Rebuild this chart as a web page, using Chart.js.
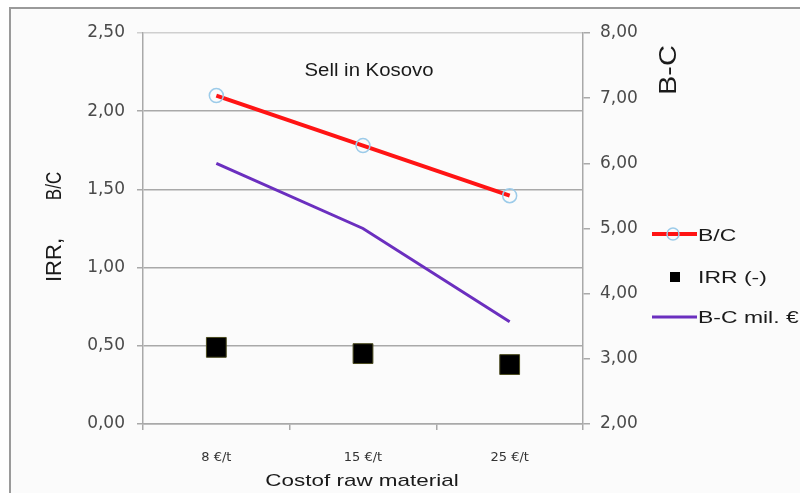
<!DOCTYPE html>
<html>
<head>
<meta charset="utf-8">
<script src="https://cdn.jsdelivr.net/npm/chart.js@4/dist/chart.umd.min.js"></script>
<style>
  html, body { margin: 0; padding: 0; background: #ffffff; }
  #wrap { width: 800px; height: 493px; position: relative; }
</style>
</head>
<body>
<div id="wrap"><canvas id="c" width="800" height="493"></canvas></div>
<script>
// Cost of raw material scenarios
const categories = ['8 €/t', '15 €/t', '25 €/t'];
// Benefit / cost ratio (left axis)
const benefitCostRatio = [2.10, 1.78, 1.46];
// Internal rate of return (left axis)
const irrValues = [0.49, 0.45, 0.38];
// Benefit minus cost, million € (right axis)
const benefitMinusCost = [6.00, 5.00, 3.57];

// Axis ranges
const leftAxis = { min: 0, max: 2.5, step: 0.5 };
const rightAxis = { min: 2, max: 8, step: 1 };

const TEXT_FONT = '"Liberation Sans", Arial, sans-serif';
const TICK_FONT = '"DejaVu Sans", Verdana, sans-serif';
const GRID = '#a9a9a9';

function commaFixed(v) {
  return Number(v).toFixed(2).replace('.', ',');
}

// Draws text with an optional rotation and independent x/y stretch
function drawText(ctx, text, x, y, o) {
  ctx.save();
  ctx.translate(x, y);
  if (o.rot) ctx.rotate(o.rot);
  ctx.scale(o.sx || 1, o.sy || 1);
  ctx.font = o.font;
  ctx.fillStyle = o.color || '#222';
  ctx.textAlign = o.align || 'left';
  ctx.textBaseline = 'middle';
  ctx.fillText(text, 0, 0);
  ctx.restore();
}

const decorations = {
  id: 'decorations',
  beforeDraw(chart) {
    const ctx = chart.ctx;
    ctx.save();
    ctx.fillStyle = '#ffffff';
    ctx.fillRect(0, 0, chart.width, chart.height);
    ctx.fillStyle = '#fbfbfb';
    ctx.fillRect(11, 9, chart.width, chart.height);
    ctx.strokeStyle = '#9a9a9a';
    ctx.lineWidth = 2;
    ctx.strokeRect(10, 8, chart.width + 20, chart.height + 20);
    ctx.restore();
  },
  afterDraw(chart) {
    const ctx = chart.ctx;
    // Chart heading
    drawText(ctx, 'Sell in Kosovo', 369, 71, { font: '18px ' + TEXT_FONT, sx: 1.13, align: 'center', color: '#1a1a1a' });
    // Left axis title
    drawText(ctx, 'B/C', 55, 186, { font: '17px ' + TEXT_FONT, rot: -Math.PI / 2, sx: 1.0, sy: 1.3, align: 'center', color: '#1a1a1a' });
    drawText(ctx, 'IRR,', 55, 260, { font: '17px ' + TEXT_FONT, rot: -Math.PI / 2, sx: 1.3, sy: 1.3, align: 'center', color: '#1a1a1a' });
    // Right axis title
    drawText(ctx, 'B-C', 670, 70, { font: '20px ' + TEXT_FONT, rot: -Math.PI / 2, sx: 1.45, sy: 1.15, align: 'center', color: '#1a1a1a' });
    // X axis title
    drawText(ctx, 'Costof raw material', 362, 481, { font: '17px ' + TEXT_FONT, sx: 1.32, align: 'center', color: '#1a1a1a' });

    // Legend
    ctx.save();
    ctx.lineCap = 'butt';
    ctx.strokeStyle = '#ff1414';
    ctx.lineWidth = 4;
    ctx.beginPath(); ctx.moveTo(652, 234); ctx.lineTo(697, 234); ctx.stroke();
    ctx.strokeStyle = '#9ccbe9';
    ctx.lineWidth = 1.5;
    ctx.beginPath(); ctx.arc(673, 234, 6, 0, Math.PI * 2); ctx.stroke();
    ctx.fillStyle = '#000000';
    ctx.fillRect(670, 272, 10, 10);
    ctx.strokeStyle = '#6b2fbf';
    ctx.lineWidth = 3;
    ctx.beginPath(); ctx.moveTo(652, 317); ctx.lineTo(697, 317); ctx.stroke();
    ctx.restore();
    drawText(ctx, 'B/C', 698, 236, { font: '17px ' + TEXT_FONT, sx: 1.35, color: '#1a1a1a' });
    drawText(ctx, 'IRR (-)', 698, 278, { font: '17px ' + TEXT_FONT, sx: 1.35, color: '#1a1a1a' });
    drawText(ctx, 'B-C mil. €', 698, 318, { font: '17px ' + TEXT_FONT, sx: 1.35, color: '#1a1a1a' });
  }
};

new Chart(document.getElementById('c'), {
  type: 'line',
  data: {
    labels: categories,
    datasets: [
      {
        label: 'B-C mil. €',
        data: benefitMinusCost,
        yAxisID: 'y1',
        borderColor: '#6b2fbf',
        borderWidth: 3,
        pointRadius: 0,
        tension: 0
      },
      {
        label: 'B/C',
        data: benefitCostRatio,
        yAxisID: 'y',
        borderColor: '#ff1414',
        borderWidth: 4,
        pointStyle: 'circle',
        pointRadius: 7,
        pointBorderWidth: 1.5,
        pointBorderColor: '#9ccbe9',
        pointBackgroundColor: 'rgba(0,0,0,0)',
        tension: 0
      },
      {
        label: 'IRR (-)',
        data: irrValues,
        yAxisID: 'y',
        showLine: false,
        pointStyle: 'rect',
        pointRadius: 14,
        pointBackgroundColor: '#000000',
        pointBorderColor: '#4a4a1e',
        pointBorderWidth: 1
      }
    ]
  },
  options: {
    responsive: false,
    animation: false,
    devicePixelRatio: 1,
    layout: { padding: { top: 33, left: 0, right: 0, bottom: 0 } },
    plugins: {
      legend: { display: false },
      tooltip: { enabled: false },
      title: { display: false }
    },
    scales: {
      x: {
        type: 'category',
        offset: true,
        afterFit(s) { s.height = 69; },
        grid: {
          offset: true,
          drawOnChartArea: false,
          drawTicks: true,
          tickLength: 6,
          color: GRID,
          lineWidth: 1.5
        },
        border: { display: true, color: GRID, width: 1.5 },
        ticks: {
          font: { family: TICK_FONT, size: 13 },
          color: '#333333',
          padding: 20,
          maxRotation: 0
        }
      },
      y: {
        position: 'left',
        min: leftAxis.min,
        max: leftAxis.max,
        afterFit(s) { s.width = 143; },
        grid: {
          color: (c) => (c.tick && c.tick.value === leftAxis.max ? '#cfcfcf' : GRID),
          lineWidth: 1.5,
          tickLength: 6,
          drawTicks: true
        },
        border: { display: true, color: GRID, width: 1.5 },
        ticks: {
          stepSize: leftAxis.step,
          font: { family: TICK_FONT, size: 17 },
          color: '#4a4a4a',
          padding: 12,
          callback: (v) => commaFixed(v)
        }
      },
      y1: {
        position: 'right',
        min: rightAxis.min,
        max: rightAxis.max,
        afterFit(s) { s.width = 217; },
        grid: {
          drawOnChartArea: false,
          drawTicks: true,
          tickLength: 7,
          color: GRID,
          lineWidth: 1.5
        },
        border: { display: true, color: GRID, width: 1.5 },
        ticks: {
          stepSize: rightAxis.step,
          font: { family: TICK_FONT, size: 17 },
          color: '#4a4a4a',
          padding: 10,
          callback: (v) => commaFixed(v)
        }
      }
    }
  },
  plugins: [decorations]
});
</script>
</body>
</html>
